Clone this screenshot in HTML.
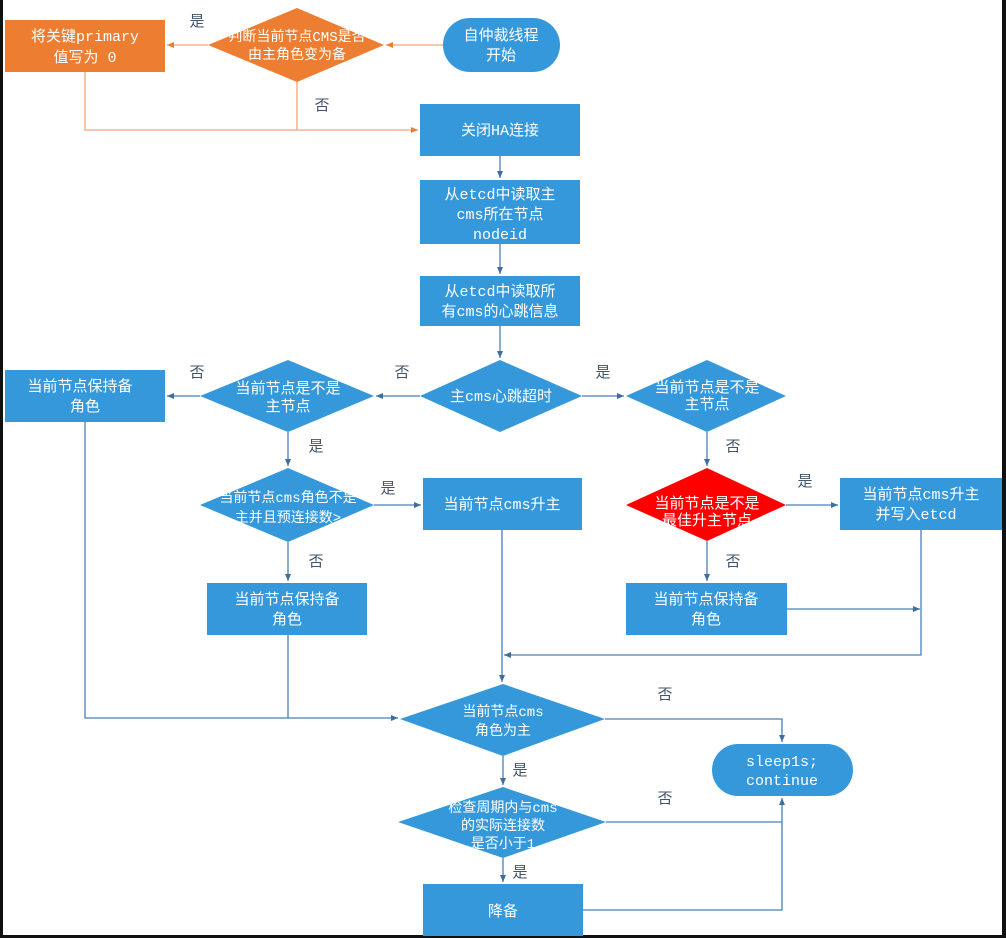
<!DOCTYPE html>
<html><head><meta charset="utf-8"><style>
html,body{margin:0;padding:0;background:#fff;}
svg{display:block;}
text{font-family:"Liberation Mono","Noto Sans CJK SC",monospace;font-size:15px;}
.w{fill:#fff;text-anchor:middle;}
.l{fill:#44546a;text-anchor:middle;font-family:"Liberation Sans","Noto Sans CJK SC",sans-serif;font-size:15px;}
.b{fill:#3498db;}
.ln{stroke:#4a7fb5;stroke-width:1.3;fill:none;}
.lo{stroke:#f4a57a;stroke-width:1.3;fill:none;}
</style></head><body>
<svg width="1006" height="938" viewBox="0 0 1006 938" xmlns="http://www.w3.org/2000/svg">
<defs>
<marker id="a" markerWidth="8" markerHeight="8" refX="7" refY="4" orient="auto" markerUnits="userSpaceOnUse"><path d="M0,1 L7,4 L0,7z" fill="#3c6e9e"/></marker>
<marker id="o" markerWidth="8" markerHeight="8" refX="7" refY="4" orient="auto" markerUnits="userSpaceOnUse"><path d="M0,1 L7,4 L0,7z" fill="#ed7d31"/></marker>
</defs>
<rect x="0" y="0" width="1006" height="938" fill="#fff"/>
<rect x="0" y="0" width="3" height="938" fill="#111"/>
<rect x="1002" y="0" width="4" height="938" fill="#111"/>
<rect x="0" y="935" width="1006" height="3" fill="#111"/>

<!-- orange lines -->
<path class="lo" d="M443,45 L386,45" marker-end="url(#o)"/>
<path class="lo" d="M208,45 L167,45" marker-end="url(#o)"/>
<path class="lo" d="M85,72 L85,130 L418,130" marker-end="url(#o)"/>
<path class="lo" d="M297,82 L297,130"/>

<!-- blue lines -->
<path class="ln" d="M500,156 L500,178" marker-end="url(#a)"/>
<path class="ln" d="M500,244 L500,274" marker-end="url(#a)"/>
<path class="ln" d="M500,326 L500,358" marker-end="url(#a)"/>
<path class="ln" d="M420,396 L376,396" marker-end="url(#a)"/>
<path class="ln" d="M200,396 L167,396" marker-end="url(#a)"/>
<path class="ln" d="M582,396 L624,396" marker-end="url(#a)"/>
<path class="ln" d="M288,432 L288,466" marker-end="url(#a)"/>
<path class="ln" d="M707,432 L707,466" marker-end="url(#a)"/>
<path class="ln" d="M374,505 L421,505" marker-end="url(#a)"/>
<path class="ln" d="M786,505 L838,505" marker-end="url(#a)"/>
<path class="ln" d="M288,542 L288,581" marker-end="url(#a)"/>
<path class="ln" d="M707,541 L707,581" marker-end="url(#a)"/>
<path class="ln" d="M787,609 L920,609" marker-end="url(#a)"/>
<path class="ln" d="M921,530 L921,655 L504,655" marker-end="url(#a)"/>
<path class="ln" d="M502,530 L502,682" marker-end="url(#a)"/>
<path class="ln" d="M85,422 L85,718 L398,718" marker-end="url(#a)"/>
<path class="ln" d="M288,635 L288,718"/>
<path class="ln" d="M605,719 L782,719 L782,742" marker-end="url(#a)"/>
<path class="ln" d="M503,756 L503,785" marker-end="url(#a)"/>
<path class="ln" d="M606,822 L782,822"/>
<path class="ln" d="M503,858 L503,882" marker-end="url(#a)"/>
<path class="ln" d="M583,910 L782,910 L782,798" marker-end="url(#a)"/>

<!-- orange shapes -->
<rect x="5" y="20" width="160" height="52" fill="#ed7d31"/>
<text class="w" x="85" y="41">将关键primary</text>
<text class="w" x="85" y="62">值写为 0</text>
<polygon points="297,8 384,45 297,82 208,45" fill="#ed7d31"/>
<text class="w" x="297" y="41" style="font-size:14px">判断当前节点CMS是否</text>
<text class="w" x="297" y="59" style="font-size:14px">由主角色变为备</text>
<rect x="443" y="18" width="117" height="54" rx="27" class="b"/>
<text class="w" x="501" y="40">自仲裁线程</text>
<text class="w" x="501" y="60">开始</text>

<!-- blue boxes -->
<rect x="420" y="104" width="160" height="52" class="b"/>
<text class="w" x="500" y="135">关闭HA连接</text>
<rect x="420" y="180" width="160" height="64" class="b"/>
<text class="w" x="500" y="199">从etcd中读取主</text>
<text class="w" x="500" y="219">cms所在节点</text>
<text class="w" x="500" y="239">nodeid</text>
<rect x="420" y="276" width="160" height="50" class="b"/>
<text class="w" x="500" y="296">从etcd中读取所</text>
<text class="w" x="500" y="316">有cms的心跳信息</text>

<polygon points="500,360 582,396 500,432 420,396" class="b"/>
<text class="w" x="501" y="401">主cms心跳超时</text>

<polygon points="288,360 374,396 288,432 200,396" class="b"/>
<text class="w" x="288" y="393">当前节点是不是</text>
<text class="w" x="288" y="411">主节点</text>
<rect x="5" y="370" width="160" height="52" class="b"/>
<text class="w" x="80" y="391">当前节点保持备</text>
<text class="w" x="85" y="411">角色</text>

<polygon points="707,360 786,396 707,432 626,396" class="b"/>
<text class="w" x="707" y="392">当前节点是不是</text>
<text class="w" x="707" y="409">主节点</text>

<polygon points="288,468 374,505 288,542 200,505" class="b"/>
<text class="w" x="288" y="502" style="font-size:14px">当前节点cms角色不是</text>
<text class="w" x="288" y="522" style="font-size:14px">主并且预连接数&gt;</text>
<rect x="423" y="478" width="159" height="52" class="b"/>
<text class="w" x="502" y="509">当前节点cms升主</text>

<polygon points="707,468 786,505 707,541 626,505" fill="#ff0000"/>
<text class="w" x="707" y="508">当前节点是不是</text>
<text class="w" x="707" y="525">最佳升主节点</text>
<rect x="840" y="478" width="162" height="52" class="b"/>
<text class="w" x="921" y="499">当前节点cms升主</text>
<text class="w" x="916" y="519">并写入etcd</text>

<rect x="207" y="583" width="160" height="52" class="b"/>
<text class="w" x="287" y="604">当前节点保持备</text>
<text class="w" x="287" y="624">角色</text>
<rect x="626" y="583" width="161" height="52" class="b"/>
<text class="w" x="706" y="604">当前节点保持备</text>
<text class="w" x="706" y="624">角色</text>

<polygon points="503,684 605,719 503,756 400,719" class="b"/>
<text class="w" x="503" y="716" style="font-size:14px">当前节点cms</text>
<text class="w" x="503" y="735" style="font-size:14px">角色为主</text>

<rect x="712" y="744" width="141" height="52" rx="26" class="b"/>
<text class="w" x="782" y="766">sleep1s;</text>
<text class="w" x="782" y="785">continue</text>

<polygon points="503,787 606,822 503,858 398,822" class="b"/>
<text class="w" x="503" y="812" style="font-size:14px">检查周期内与cms</text>
<text class="w" x="503" y="830" style="font-size:14px">的实际连接数</text>
<text class="w" x="503" y="848" style="font-size:14px">是否小于1</text>

<rect x="423" y="884" width="160" height="52" class="b"/>
<text class="w" x="503" y="916">降备</text>

<!-- labels -->
<text class="l" x="197" y="26">是</text>
<text class="l" x="322" y="110">否</text>
<text class="l" x="197" y="377">否</text>
<text class="l" x="402" y="377">否</text>
<text class="l" x="603" y="377">是</text>
<text class="l" x="316" y="451">是</text>
<text class="l" x="733" y="451">否</text>
<text class="l" x="388" y="493">是</text>
<text class="l" x="805" y="486">是</text>
<text class="l" x="316" y="566">否</text>
<text class="l" x="733" y="566">否</text>
<text class="l" x="665" y="699">否</text>
<text class="l" x="520" y="775">是</text>
<text class="l" x="665" y="803">否</text>
<text class="l" x="520" y="877">是</text>
</svg>
</body></html>
